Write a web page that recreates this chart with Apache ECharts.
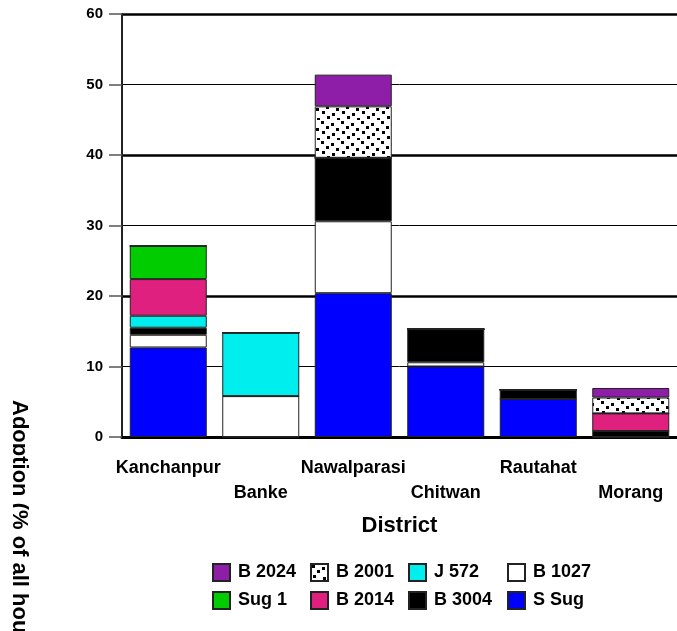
<!DOCTYPE html>
<html>
<head>
<meta charset="utf-8">
<script src="https://cdn.jsdelivr.net/npm/echarts@6/dist/echarts.min.js"></script>
<style>
  html, body { margin: 0; padding: 0; background: #fff; }
  #chart { width: 677px; height: 631px; }
</style>
</head>
<body>
<div id="chart"></div>
<script>
// Districts along the x axis
const districts = ['Kanchanpur', 'Banke', 'Nawalparasi', 'Chitwan', 'Rautahat', 'Morang'];

// Adoption (%) per variety, one value per district, stacked bottom to top
const sSug   = [12.7, 0,   20.4, 10.0, 5.4, 0];
const b1027  = [1.8,  5.8, 10.2, 0.6,  0,   0];
const b3004  = [1.0,  0,   9.0,  4.7,  1.3, 0.85];
const j572   = [1.7,  9.0, 0,    0,    0,   0];
const b2014  = [5.2,  0,   0,    0,    0,   2.5];
const sug1   = [4.7,  0,   0,    0,    0,   0];
const b2001  = [0,    0,   7.3,  0,    0,   2.25];
const b2024  = [0,    0,   4.5,  0,    0,   1.35];

// Y axis ticks
const yTicks = [0, 10, 20, 30, 40, 50, 60];

const FONT = "'Liberation Sans', Arial, sans-serif";

// Speckled fill: white tile with small black squares
function speckle() {
  const c = document.createElement('canvas');
  c.width = 20; c.height = 20;
  const g = c.getContext('2d');
  g.fillStyle = '#fff';
  g.fillRect(0, 0, 20, 20);
  g.fillStyle = '#000';
  const dots = [[1, 1], [11, 3], [6, 6], [16, 8], [2, 11], [12, 13], [7, 16], [17, 18]];
  dots.forEach(([x, y]) => g.fillRect(x, y, 3, 3));
  return { image: c, repeat: 'repeat' };
}

const seriesDefs = [
  { name: 'S Sug',  data: sSug,  color: '#0000ff' },
  { name: 'B 1027', data: b1027, color: '#ffffff' },
  { name: 'B 3004', data: b3004, color: '#000000' },
  { name: 'J 572',  data: j572,  color: '#00eeee' },
  { name: 'B 2014', data: b2014, color: '#e0207e' },
  { name: 'Sug 1',  data: sug1,  color: '#00cc00' },
  { name: 'B 2001', data: b2001, color: speckle() },
  { name: 'B 2024', data: b2024, color: '#8e1ea8' }
];

const legendCols = [
  ['B 2024', 'Sug 1'],
  ['B 2001', 'B 2014'],
  ['J 572', 'B 3004'],
  ['B 1027', 'S Sug']
];
const legendLefts = [212, 310, 408, 507];

const chart = echarts.init(document.getElementById('chart'), null, { renderer: 'canvas' });

chart.setOption({
  animation: false,
  backgroundColor: '#fff',
  textStyle: { fontFamily: FONT },
  grid: { left: 122, top: 14, bottom: 194, right: -9, containLabel: false },
  legend: legendCols.map((items, i) => ({
    orient: 'vertical',
    left: legendLefts[i],
    top: 563,
    padding: 0,
    itemWidth: 17,
    itemHeight: 17,
    itemGap: 9,
    icon: 'rect',
    selectedMode: false,
    data: items,
    textStyle: { fontFamily: FONT, fontWeight: 'bold', fontSize: 18, color: '#000', padding: [0, 0, 0, 3] }
  })),
  xAxis: {
    type: 'category',
    data: districts,
    name: 'District',
    nameLocation: 'middle',
    nameGap: 78,
    nameTextStyle: { fontFamily: FONT, fontWeight: 'bold', fontSize: 22, color: '#000' },
    axisLine: { lineStyle: { color: '#000', width: 3 } },
    axisTick: { alignWithLabel: true, length: 12, lineStyle: { color: '#555', width: 1.5 } },
    axisLabel: {
      interval: 0,
      margin: 19,
      fontFamily: FONT,
      fontWeight: 'bold',
      fontSize: 18,
      color: '#000',
      lineHeight: 25,
      formatter: (v, i) => (i % 2 ? '\n' + v : v)
    }
  },
  yAxis: [
    {
      type: 'value',
      min: yTicks[0],
      max: yTicks[yTicks.length - 1],
      interval: 10,
      axisLine: { show: true, lineStyle: { color: '#222', width: 2 } },
      axisTick: { show: true, length: 13, lineStyle: { color: '#555', width: 1.5 } },
      axisLabel: { margin: 19, fontFamily: FONT, fontWeight: 'bold', fontSize: 15, color: '#000' },
      splitLine: { show: true, lineStyle: { color: '#000', width: 1 } }
    },
    {
      type: 'value',
      position: 'left',
      min: yTicks[0],
      max: yTicks[yTicks.length - 1],
      interval: 20,
      axisLine: { show: false },
      axisTick: { show: false },
      axisLabel: { show: false },
      splitLine: { show: true, lineStyle: { color: '#000', width: 2.5 } }
    }
  ],
  graphic: [
    {
      type: 'text',
      x: 19,
      y: 400,
      rotation: -Math.PI / 2,
      z: 10,
      style: {
        text: 'Adoption (% of all households)',
        fontFamily: FONT,
        fontWeight: 'bold',
        fontSize: 22,
        fill: '#000',
        align: 'left',
        verticalAlign: 'middle'
      }
    },
    {
      // left margin strip that trims the rotated title's baseline side
      type: 'rect',
      z: 11,
      shape: { x: 0, y: 380, width: 13, height: 251 },
      style: { fill: '#fff' }
    }
  ],
  series: seriesDefs.map(s => ({
    name: s.name,
    type: 'bar',
    stack: 'total',
    barWidth: 77,
    data: s.data,
    itemStyle: { color: s.color, borderColor: '#222', borderWidth: 1 },
    emphasis: { disabled: true }
  }))
});
</script>
</body>
</html>
